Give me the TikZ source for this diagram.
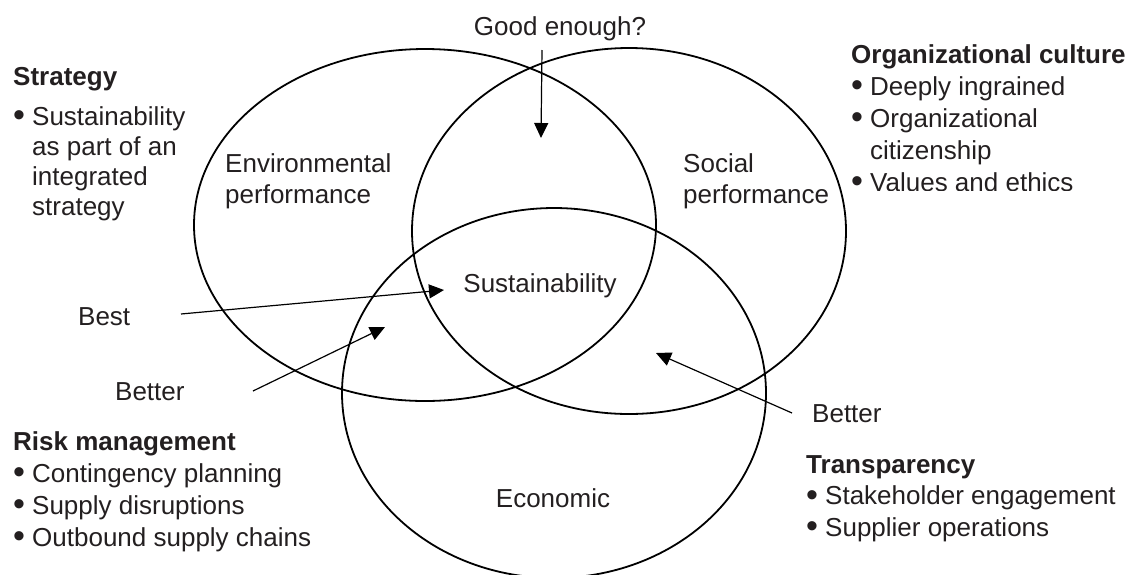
\documentclass[tikz,border=0pt]{standalone}
\usepackage{fontspec}
\setmainfont{Liberation Sans}
\usetikzlibrary{arrows.meta}
\definecolor{ink}{RGB}{35,31,32}
\newcommand\bul{\makebox[19pt][l]{\raisebox{-1.5pt}{\fontsize{34}{34}\selectfont\textbullet}}}
\tikzset{
  ring/.style={draw=black, line width=1.8pt},
  txt/.style={font=\fontsize{26}{30}\selectfont, text=ink, inner sep=0pt, anchor=base west},
  ctxt/.style={font=\fontsize{26}{30}\selectfont, text=ink, inner sep=0pt, anchor=base},
  pointer/.style={draw=black, line width=1.2pt, -{Triangle[length=15pt,width=14pt]}}
}
\begin{document}
\begin{tikzpicture}[x=1pt,y=-1pt]
\useasboundingbox (0,0) rectangle (1134,574);
\begin{scope}
\clip (0,0) rectangle (1134,574);
% ellipses
\draw[ring] (425,225) ellipse [x radius=231, y radius=176];
\draw[ring] (629,231) ellipse [x radius=217, y radius=183];
\draw[ring] (554,393) ellipse [x radius=212, y radius=185];
\end{scope}
% labels inside
\node[ctxt] (good) at (560,35) {Good enough?};
\node[txt] (env) at (225,172) {\begin{tabular}[t]{@{}l@{}}Environmental\\[1pt] performance\end{tabular}};
\node[txt] (soc) at (683,172) {\begin{tabular}[t]{@{}l@{}}Social\\[1pt] performance\end{tabular}};
\node[ctxt] (sus) at (540,292) {Sustainability};
\node[ctxt] (eco) at (553,507) {Economic};
\node[txt] (best) at (78,325) {Best};
\node[txt] (betl) at (115,400) {Better};
\node[txt] (betr) at (812,422) {Better};
% arrows
\coordinate (g1) at (542,50);   \coordinate (g2) at (541,138);
\coordinate (b1) at (181,314);  \coordinate (b2) at (444,290);
\coordinate (l1) at (253,391);  \coordinate (l2) at (385,327);
\coordinate (r1) at (792,413);  \coordinate (r2) at (656,353);
\draw[pointer] (g1) -- (g2);
\draw[pointer] (b1) -- (b2);
\draw[pointer] (l1) -- (l2);
\draw[pointer] (r1) -- (r2);
% side blocks
\node[txt] (strat) at (13,85) {\begin{tabular}[t]{@{}l@{}l@{}}
\multicolumn{2}{@{}l@{}}{\textbf{Strategy}}\\[10pt]
\bul & Sustainability\\
 & as part of an\\
 & integrated\\
 & strategy
\end{tabular}};
\begin{scope}
\clip (800,0) rectangle (1134,190);
\node[txt] (org) at (851,63) {\fontsize{26}{32}\selectfont\begin{tabular}[t]{@{}l@{}l@{}}
\multicolumn{2}{@{}l@{}}{\textbf{Organizational culture}}\\
\bul & Deeply ingrained\\
\bul & Organizational\\
 & citizenship\\
\bul & Values and ethics
\end{tabular}};
\end{scope}
\node[txt] (risk) at (13,450) {\fontsize{26}{32}\selectfont\begin{tabular}[t]{@{}l@{}l@{}}
\multicolumn{2}{@{}l@{}}{\textbf{Risk management}}\\
\bul & Contingency planning\\
\bul & Supply disruptions\\
\bul & Outbound supply chains
\end{tabular}};
\node[txt] (trans) at (806,473) {\fontsize{26}{31.5}\selectfont\begin{tabular}[t]{@{}l@{}l@{}}
\multicolumn{2}{@{}l@{}}{\textbf{Transparency}}\\
\bul & Stakeholder engagement\\
\bul & Supplier operations
\end{tabular}};
\end{tikzpicture}
\end{document}
